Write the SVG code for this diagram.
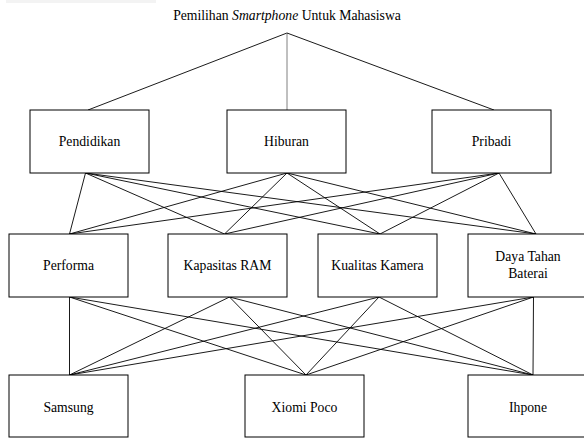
<svg xmlns="http://www.w3.org/2000/svg" width="584" height="439" viewBox="0 0 584 439">
<style>
.box{fill:#fff;stroke:#000;stroke-width:1}
.lbl{font-family:"Liberation Serif","Times New Roman",serif;font-size:13.7px;fill:#000;text-anchor:middle}
.ln{stroke:#000;stroke-width:0.9;fill:none}
</style>
<rect x="0" y="0" width="584" height="439" fill="#fff"/>
<rect x="6" y="0" width="150" height="3" fill="#f3f3f3"/>
<text class="lbl" x="287" y="20">Pemilihan <tspan font-style="italic">Smartphone</tspan> Untuk Mahasiswa</text>
<g id="connectors">
<line class="ln" x1="287" y1="33" x2="88" y2="110"/>
<line x1="287" y1="33" x2="287" y2="110" stroke="#808080" stroke-width="1"/>
<line class="ln" x1="287" y1="33" x2="494" y2="110"/>
<line class="ln" x1="85.5" y1="173" x2="69.5" y2="234"/>
<line class="ln" x1="85.5" y1="173" x2="224.5" y2="234"/>
<line class="ln" x1="85.5" y1="173" x2="380" y2="234"/>
<line class="ln" x1="85.5" y1="173" x2="536" y2="234"/>
<line class="ln" x1="287" y1="173" x2="69.5" y2="234"/>
<line class="ln" x1="287" y1="173" x2="224.5" y2="234"/>
<line class="ln" x1="287" y1="173" x2="380" y2="234"/>
<line class="ln" x1="287" y1="173" x2="536" y2="234"/>
<line class="ln" x1="499" y1="173" x2="69.5" y2="234"/>
<line class="ln" x1="499" y1="173" x2="224.5" y2="234"/>
<line class="ln" x1="499" y1="173" x2="380" y2="234"/>
<line class="ln" x1="499" y1="173" x2="536" y2="234"/>
<line class="ln" x1="69.5" y1="297" x2="69.5" y2="375"/>
<line class="ln" x1="69.5" y1="297" x2="306" y2="375"/>
<line class="ln" x1="69.5" y1="297" x2="533" y2="375"/>
<line class="ln" x1="229.5" y1="297" x2="69.5" y2="375"/>
<line class="ln" x1="229.5" y1="297" x2="306" y2="375"/>
<line class="ln" x1="229.5" y1="297" x2="533" y2="375"/>
<line class="ln" x1="379" y1="297" x2="69.5" y2="375"/>
<line class="ln" x1="379" y1="297" x2="306" y2="375"/>
<line class="ln" x1="379" y1="297" x2="533" y2="375"/>
<line class="ln" x1="533.5" y1="297" x2="69.5" y2="375"/>
<line class="ln" x1="533.5" y1="297" x2="306" y2="375"/>
<line class="ln" x1="533.5" y1="297" x2="533" y2="375"/>
</g>
<g id="pendidikan"><rect class="box" x="30" y="110" width="119" height="63"/><text class="lbl" x="89.5" y="146">Pendidikan</text></g>
<g id="hiburan"><rect class="box" x="227" y="110" width="119" height="63"/><text class="lbl" x="286.5" y="146">Hiburan</text></g>
<g id="pribadi"><rect class="box" x="432" y="110" width="119" height="63"/><text class="lbl" x="491.5" y="146">Pribadi</text></g>
<g id="performa"><rect class="box" x="9" y="234" width="119" height="63"/><text class="lbl" x="68.5" y="270">Performa</text></g>
<g id="kapasitas-ram"><rect class="box" x="168" y="234" width="119" height="63"/><text class="lbl" x="227.5" y="270">Kapasitas RAM</text></g>
<g id="kualitas-kamera"><rect class="box" x="318" y="234" width="119" height="63"/><text class="lbl" x="377.5" y="270">Kualitas Kamera</text></g>
<g id="daya-tahan-baterai"><rect class="box" x="468" y="234" width="120" height="63"/><text class="lbl" x="528" y="261">Daya Tahan</text><text class="lbl" x="528" y="278">Baterai</text></g>
<g id="samsung"><rect class="box" x="9" y="375" width="119" height="62"/><text class="lbl" x="68.5" y="412">Samsung</text></g>
<g id="xiomi-poco"><rect class="box" x="245" y="375" width="119" height="62"/><text class="lbl" x="304.5" y="412">Xiomi Poco</text></g>
<g id="ihpone"><rect class="box" x="468" y="375" width="120" height="62"/><text class="lbl" x="528" y="412">Ihpone</text></g>
</svg>
